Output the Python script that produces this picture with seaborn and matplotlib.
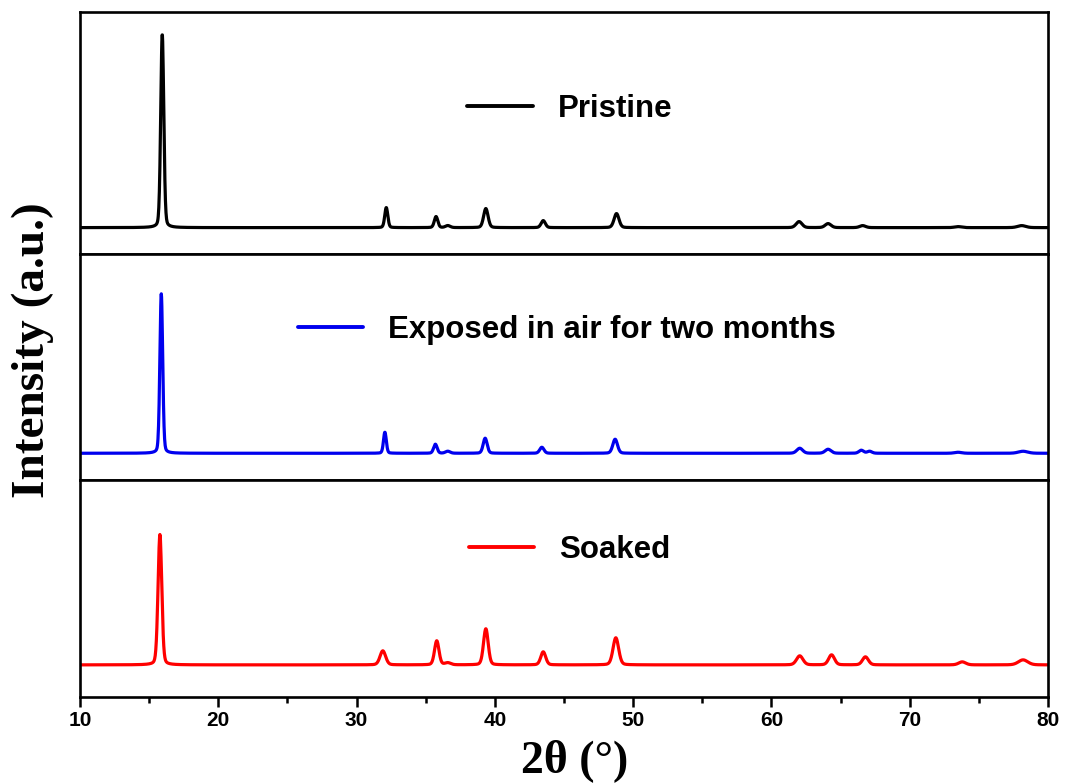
import numpy as np
import pandas as pd
import matplotlib
matplotlib.use("Agg")
import matplotlib.pyplot as plt
import seaborn as sns
from matplotlib.ticker import MultipleLocator

# ---- data (peak tables, intensities in a.u.) ----
pristine_pos = [15.95, 32.15, 35.75, 36.6, 39.35, 43.5, 48.8, 62.0, 64.1, 66.6, 73.5, 78.1]
pristine_hgt = [193, 20, 11, 2, 19, 7, 14, 6, 4, 2, 1, 2]
pristine_fwhm = [0.26, 0.26, 0.3, 0.4, 0.38, 0.36, 0.42, 0.5, 0.5, 0.5, 0.6, 0.7]

exposed_pos = [15.88, 32.05, 35.7, 36.6, 39.3, 43.4, 48.7, 62.05, 64.1, 66.5, 67.1, 73.5, 78.2]
exposed_hgt = [159, 21, 9, 2, 15, 6, 14, 5, 4, 3, 2, 1, 2]
exposed_fwhm = [0.24, 0.24, 0.3, 0.4, 0.34, 0.36, 0.4, 0.5, 0.5, 0.4, 0.4, 0.6, 0.8]

soaked_pos = [15.78, 31.9, 35.8, 36.6, 39.35, 43.5, 48.75, 62.05, 64.35, 66.8, 73.8, 78.2]
soaked_hgt = [130, 14, 24, 2, 36, 13, 27, 9, 10, 8, 3, 5]
soaked_fwhm = [0.32, 0.48, 0.38, 0.5, 0.4, 0.42, 0.48, 0.55, 0.5, 0.5, 0.6, 0.8]

labels = ["Pristine", "Exposed in air for two months", "Soaked"]
colors = ["#000000", "#0000ee", "#ff0000"]
x_ticks = [10, 20, 30, 40, 50, 60, 70, 80]


def profile(two_theta, pos, hgt, fwhm, eta=0.2):
    y = np.zeros_like(two_theta)
    for p, h, w in zip(pos, hgt, fwhm):
        g = np.exp(-4 * np.log(2) * ((two_theta - p) / w) ** 2)
        l = 1.0 / (1.0 + 4 * ((two_theta - p) / w) ** 2)
        y += h * ((1 - eta) * g + eta * l)
    return y


tt = np.arange(10.0, 80.0001, 0.02)
frames = []
for lab, pos, hgt, fw in zip(labels,
                             [pristine_pos, exposed_pos, soaked_pos],
                             [pristine_hgt, exposed_hgt, soaked_hgt],
                             [pristine_fwhm, exposed_fwhm, soaked_fwhm]):
    frames.append(pd.DataFrame({"2theta": tt, "I": profile(tt, pos, hgt, fw), "sample": lab}))

sns.set_style("ticks")
plt.rcParams["font.family"] = ["Liberation Sans", "DejaVu Sans"]
plt.rcParams["text.color"] = "black"
plt.rcParams["xtick.color"] = "black"
plt.rcParams["xtick.labelcolor"] = "black"

fig = plt.figure(figsize=(10.65, 7.84), dpi=100)
gs = fig.add_gridspec(3, 1, height_ratios=[241, 226, 216], hspace=0,
                      left=0.0751, right=0.984, top=0.9847, bottom=0.111)
axes = [fig.add_subplot(gs[i]) for i in range(3)]
ylims = [(-26, 215), (-27, 199), (-32, 184)]
leg_anchor = [(0.506, 0.60), (0.503, 0.664), (0.506, 0.68)]

for i, ax in enumerate(axes):
    sns.lineplot(data=frames[i], x="2theta", y="I", ax=ax, color=colors[i],
                 linewidth=2.3, label=labels[i], estimator=None, sort=False)
    ax.set_xlim(10, 80)
    ax.set_ylim(*ylims[i])
    ax.set_yticks([])
    ax.set_ylabel("")
    ax.set_xlabel("")
    for s in ax.spines.values():
        s.set_linewidth(1.9)
        s.set_color("black")
    leg = ax.legend(frameon=False, loc="center", bbox_to_anchor=leg_anchor[i],
                    handlelength=2.1, handletextpad=0.8,
                    prop={"family": "Liberation Sans", "weight": "bold", "size": 22.5})
    for t in leg.get_texts():
        t.set_color("black")
    for h in leg.get_lines():
        h.set_linewidth(2.8)
    if i < 2:
        ax.tick_params(axis="x", which="both", bottom=False, labelbottom=False)

ax = axes[2]
ax.set_xticks(x_ticks)
ax.xaxis.set_minor_locator(MultipleLocator(5))
ax.tick_params(axis="x", which="major", direction="out", length=7, width=1.8, pad=3,
               colors="black")
ax.tick_params(axis="x", which="minor", direction="out", length=4, width=1.8, colors="black")
for t in ax.get_xticklabels():
    t.set_fontfamily(["Liberation Sans Narrow", "Liberation Sans"])
    t.set_fontweight("bold")
    t.set_fontsize(15)

fig.text(0.54, 0.030, "2θ (°)", ha="center", va="center", color="black",
         fontfamily=["Liberation Serif", "DejaVu Serif"], fontweight="bold", fontsize=33)
fig.text(0.031, 0.554, "Intensity (a.u.)", ha="center", va="center", rotation=90,
         color="black",
         fontfamily=["Liberation Serif", "DejaVu Serif"], fontweight="bold", fontsize=34)

fig.savefig("out.png", dpi=100)
